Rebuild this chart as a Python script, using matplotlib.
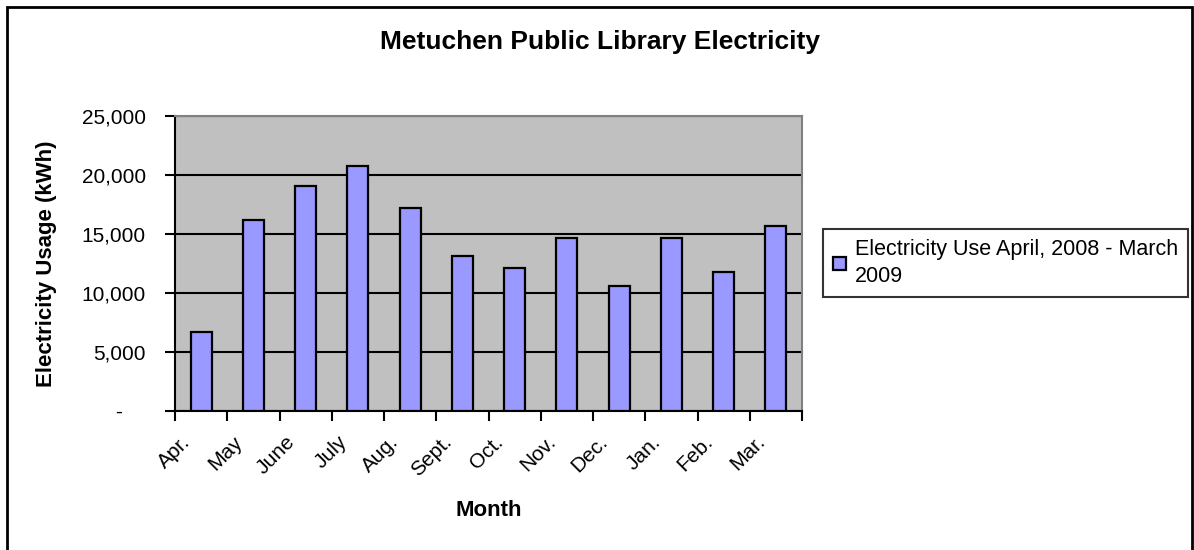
import matplotlib
matplotlib.use("Agg")
import matplotlib.pyplot as plt
import matplotlib.transforms as mtransforms
from matplotlib.patches import Rectangle
from matplotlib.ticker import FuncFormatter

plt.rcParams['font.family'] = ['Liberation Sans', 'DejaVu Sans']

# data
months = ['Apr.', 'May', 'June', 'July', 'Aug.', 'Sept.', 'Oct.', 'Nov.',
          'Dec.', 'Jan.', 'Feb.', 'Mar.']
usage_kwh = [6700, 16200, 19100, 20750, 17200, 13150, 12150, 14700,
             10600, 14700, 11800, 15700]
yticks = [0, 5000, 10000, 15000, 20000, 25000]
series_name = 'Electricity Use April, 2008 - March\n2009'

W, H = 1194, 550
fig = plt.figure(figsize=(W / 100, H / 100), dpi=100)
ax = fig.add_axes([175 / W, 139 / H, 627 / W, 295 / H])

x = list(range(len(months)))
ax.set_axisbelow(True)
ax.set_facecolor('#c0c0c0')
ax.bar(x, usage_kwh, width=0.4, color='#9999ff', edgecolor='black',
       linewidth=1.6, label=series_name, zorder=3)

ax.set_xlim(-0.5, len(months) - 0.5)
ax.set_ylim(0, 25000)
ax.set_yticks(yticks)
# accounting style: zero shows as a dash set in from the right
ax.yaxis.set_major_formatter(FuncFormatter(lambda v, p: '-    ' if v == 0 else f'{int(v):,}'))
ax.grid(axis='y', color='black', linewidth=1.5, zorder=1)

# labels in the middle of the categories, tick marks on the boundaries
ax.set_xticks(x)
ax.set_xticklabels(months, rotation=45, ha='right', va='center', rotation_mode='anchor')
ax.set_xticks([i - 0.5 for i in range(len(months) + 1)], minor=True)
ax.tick_params(axis='x', which='major', length=0, pad=20, labelsize=15)
ax.tick_params(axis='x', which='minor', length=7, width=1.5, direction='out')
ax.tick_params(axis='y', length=7, width=1.5, direction='out', labelsize=15, pad=14)
shift = mtransforms.ScaledTranslation(-0.14, 0, fig.dpi_scale_trans)
for lbl in ax.get_xticklabels():
    lbl.set_transform(lbl.get_transform() + shift)

for s in ['left', 'bottom']:
    ax.spines[s].set_color('black')
    ax.spines[s].set_linewidth(1.5)
for s in ['top', 'right']:
    ax.spines[s].set_color('#808080')
    ax.spines[s].set_linewidth(1.5)

ax.set_xlabel('Month', fontsize=16, fontweight='bold', va='center')
ax.xaxis.set_label_coords(0.5, (H - 511 - 139) / 295)
ax.set_ylabel('Electricity Usage (kWh)', fontsize=16, fontweight='bold', va='center')
ax.yaxis.set_label_coords((47 - 175) / 627, 0.5)
fig.text(600 / W, 1 - 42 / H, 'Metuchen Public Library Electricity', ha='center', va='center',
         fontsize=19, fontweight='bold')

leg = ax.legend(loc='center left', bbox_to_anchor=(823 / W, 1 - 263 / H),
                bbox_transform=fig.transFigure, borderaxespad=0, fontsize=15.5,
                frameon=True, fancybox=False, edgecolor='black', handlelength=0.6,
                handleheight=0.6, handletextpad=0.45, borderpad=0.45)
leg.get_frame().set_linewidth(1.5)
for t in leg.get_texts():
    t.set_linespacing(1.4)

# outer chart-area border
fig.patches.append(Rectangle((7 / W, -0.02), (1192 - 7) / W, (H - 7) / H + 0.02,
                             transform=fig.transFigure, fill=False,
                             edgecolor='black', linewidth=2))

fig.savefig('out.png', dpi=100)
